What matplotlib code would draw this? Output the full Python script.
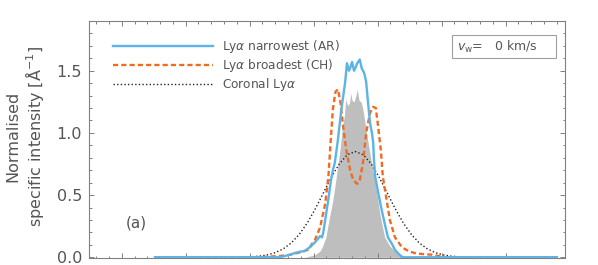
import matplotlib
matplotlib.use("Agg")
import matplotlib.pyplot as plt
from matplotlib.ticker import MultipleLocator, NullFormatter, FormatStrFormatter
from matplotlib.patches import Rectangle

# ---------------- data ----------------
# x in arbitrary units (major tick spacing = 1)
narrow_x = [1.52, 3.47, 3.55, 3.63, 3.71, 3.79, 3.86, 3.91, 3.94, 4.02, 4.07, 4.10,
            4.13, 4.15, 4.18, 4.23, 4.27, 4.30, 4.33, 4.38, 4.43, 4.49, 4.52, 4.55,
            4.57, 4.60, 4.63, 4.65, 4.68, 4.72, 4.75, 4.79, 4.82, 4.85, 4.88, 4.91,
            4.93, 4.94, 4.96, 5.00, 5.05, 5.08, 5.11, 5.16, 5.22, 5.27, 5.32, 5.38, 7.80]
narrow_y = [0.00, 0.00, 0.01, 0.02, 0.035, 0.045, 0.05, 0.07, 0.08, 0.12, 0.15, 0.17,
            0.16, 0.20, 0.30, 0.47, 0.62, 0.70, 0.76, 0.95, 1.18, 1.40, 1.56, 1.50,
            1.52, 1.57, 1.50, 1.52, 1.56, 1.59, 1.52, 1.48, 1.41, 1.24, 1.08, 1.00,
            0.92, 0.80, 0.65, 0.54, 0.41, 0.34, 0.27, 0.16, 0.11, 0.06, 0.03, 0.00, 0.00]

broad_x = [1.52, 3.11, 3.47, 3.63, 3.71, 3.79, 3.91, 4.02, 4.10, 4.18, 4.23, 4.27,
           4.30, 4.34, 4.38, 4.42, 4.46, 4.51, 4.57, 4.62, 4.68, 4.72, 4.77, 4.82,
           4.88, 4.93, 4.97, 5.00, 5.05, 5.08, 5.14, 5.19, 5.27, 5.38, 5.48, 5.60,
           5.85, 6.05, 7.80]
broad_y = [0.00, 0.00, 0.01, 0.02, 0.03, 0.04, 0.06, 0.14, 0.24, 0.43, 0.65, 0.97,
           1.19, 1.33, 1.35, 1.24, 1.05, 0.86, 0.70, 0.62, 0.59, 0.62, 0.76, 1.00,
           1.16, 1.21, 1.20, 1.08, 0.86, 0.65, 0.46, 0.30, 0.16, 0.08, 0.05, 0.03,
           0.02, 0.00, 0.00]

coronal_x = [1.52, 2.65, 2.90, 3.025, 3.15, 3.275, 3.40, 3.525, 3.65, 3.775, 3.90,
             4.025, 4.15, 4.275, 4.40, 4.525, 4.65, 4.775, 4.90, 5.025, 5.15, 5.275,
             5.40, 5.525, 5.65, 5.775, 5.90, 6.025, 6.15, 6.275, 6.40, 6.65, 7.80]
coronal_y = [0.00, 0.00, 0.002, 0.004, 0.009, 0.019, 0.037, 0.068, 0.115, 0.184, 0.276,
             0.389, 0.516, 0.642, 0.750, 0.824, 0.850, 0.824, 0.750, 0.642, 0.516, 0.389,
             0.276, 0.184, 0.115, 0.068, 0.037, 0.019, 0.009, 0.004, 0.002, 0.00, 0.00]

obs_x = [3.86, 4.02, 4.10, 4.14, 4.19, 4.25, 4.30, 4.34, 4.41, 4.45, 4.48, 4.50,
         4.53, 4.56, 4.58, 4.60, 4.63, 4.66, 4.68, 4.71, 4.74, 4.77, 4.82, 4.87,
         4.96, 5.04, 5.11, 5.19, 5.27, 5.38, 5.43]
obs_y = [0.00, 0.02, 0.05, 0.09, 0.16, 0.33, 0.46, 0.60, 0.86, 1.05, 1.14, 1.27,
         1.22, 1.24, 1.32, 1.26, 1.25, 1.30, 1.35, 1.26, 1.25, 1.19, 1.02, 0.86,
         0.60, 0.33, 0.16, 0.09, 0.05, 0.02, 0.00]

labels = [r"Ly$\alpha$ narrowest (AR)", r"Ly$\alpha$ broadest (CH)", r"Coronal Ly$\alpha$"]
ytick_vals = [0.0, 0.5, 1.0, 1.5]

# ---------------- styling ----------------
TXT = "#555555"
EDGE = "#808080"
BLUE = "#5BB4E5"
ORANGE = "#F26A22"
GREY = "#BEBEBE"

plt.rcParams["font.family"] = ["DejaVu Sans"]

fig = plt.figure(figsize=(5.98, 2.65), dpi=100)
ax = fig.add_axes([89 / 598, 1 - 258 / 265, 476 / 598, 237.3 / 265])

ax.fill_between(obs_x, obs_y, 0, color=GREY, linewidth=0, zorder=1)
ax.plot(coronal_x, coronal_y, color="#222222", lw=1.0, linestyle=(0, (1, 1.6)), zorder=2)
ax.plot(broad_x, broad_y, color=ORANGE, lw=1.7, linestyle=(0, (2.2, 1.3)), zorder=3)
ax.plot(narrow_x, narrow_y, color=BLUE, lw=1.7, zorder=4)

ax.set_xlim(0.489, 7.927)
ax.set_ylim(-0.006, 1.902)

ax.xaxis.set_major_locator(MultipleLocator(1))
ax.xaxis.set_minor_locator(MultipleLocator(0.2))
ax.xaxis.set_major_formatter(NullFormatter())
ax.set_yticks(ytick_vals)
ax.yaxis.set_minor_locator(MultipleLocator(0.1))
ax.yaxis.set_major_formatter(FormatStrFormatter("%.1f"))

ax.tick_params(which="both", direction="in", top=True, right=True, color=EDGE,
               width=0.7, labelcolor=TXT, labelsize=11.5)
ax.tick_params(which="major", length=3.5, pad=5)
ax.tick_params(which="minor", length=1.8)
for s in ax.spines.values():
    s.set_color(EDGE)
    s.set_linewidth(0.8)

ax.set_ylabel("Normalised\nspecific intensity [Å$^{-1}$]", fontsize=11.5, color=TXT,
              linespacing=1.15)
ax.yaxis.set_label_coords(-0.091, 0.514)

# legend
h = ax.get_lines()
leg = ax.legend([h[2], h[1], h[0]], labels, loc="upper left",
                bbox_to_anchor=(0.0498, 0.925), frameon=False, fontsize=8.7,
                handlelength=8.3, handletextpad=0.75, labelspacing=0.15,
                borderpad=0, borderaxespad=0)
for t in leg.get_texts():
    t.set_color(TXT)

# velocity box
ax.add_patch(Rectangle((0.762, 0.8415), 0.219, 0.0982, transform=ax.transAxes,
                       fill=False, edgecolor="#A0A0A0", lw=0.8, zorder=5))
ax.text(0.7725, 0.890, r"$v_{\rm w}$=   0 km/s", transform=ax.transAxes,
        fontsize=9, color=TXT, va="center", ha="left")

ax.text(0.099, 0.147, "(a)", transform=ax.transAxes, fontsize=11, color=TXT,
        ha="center", va="center")

fig.savefig("out.png", dpi=100)
